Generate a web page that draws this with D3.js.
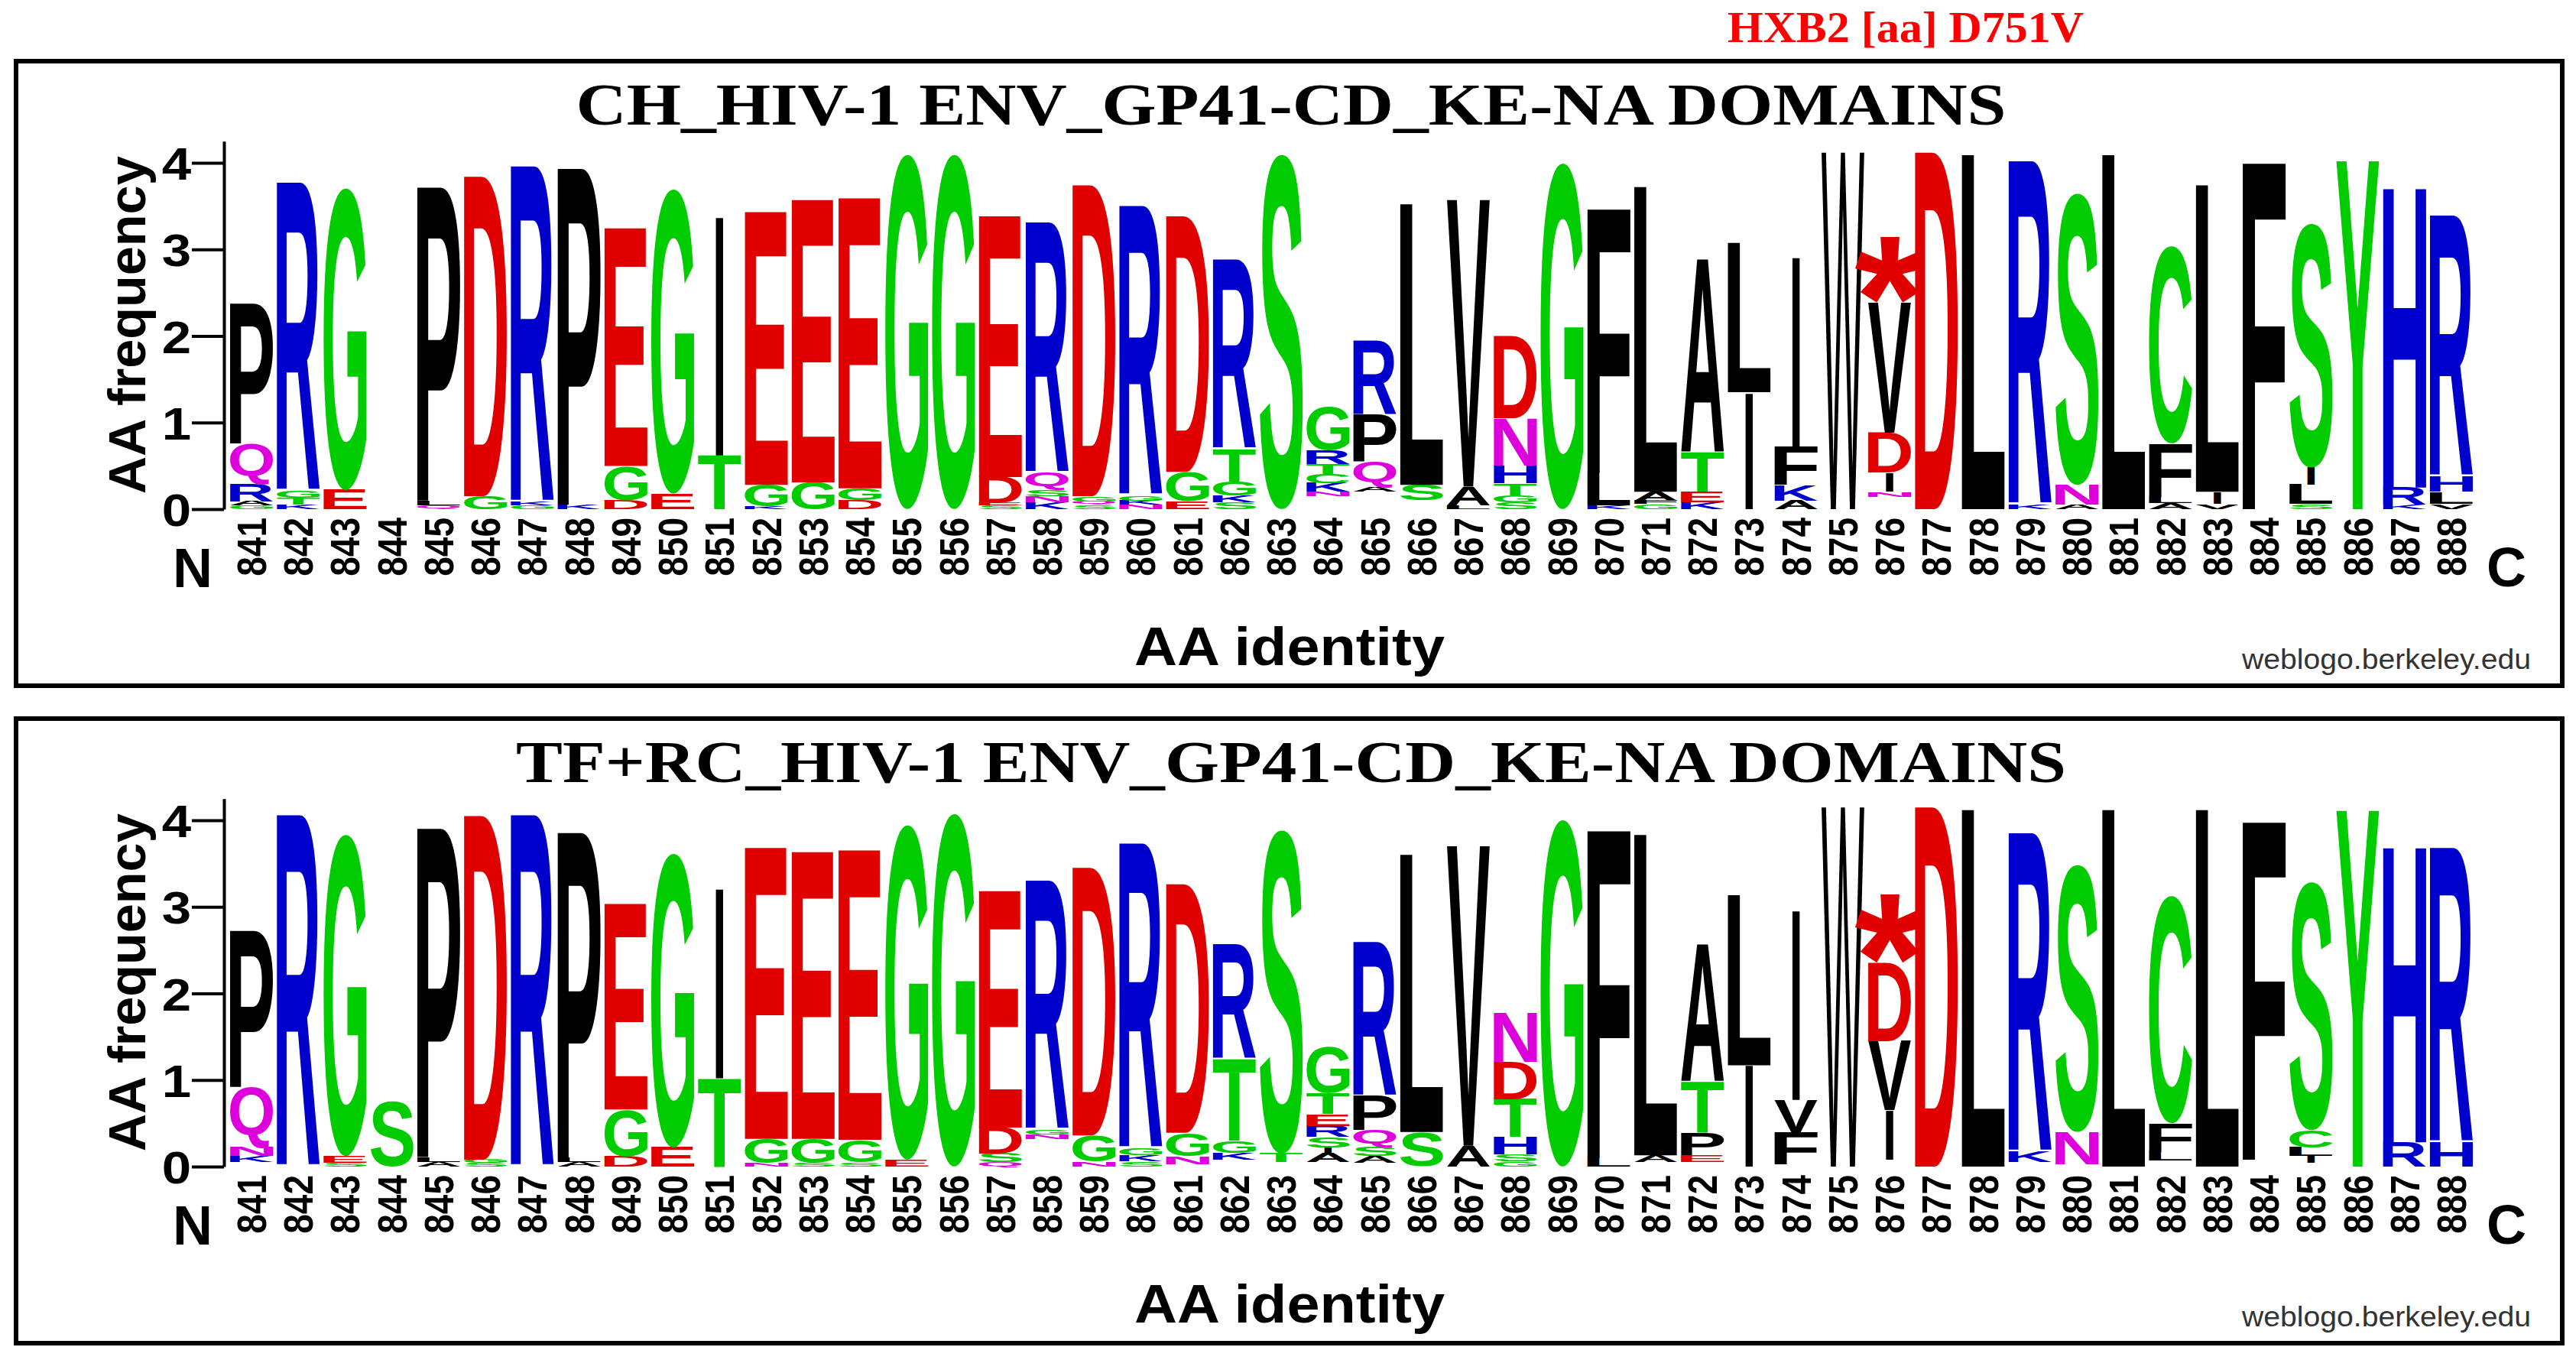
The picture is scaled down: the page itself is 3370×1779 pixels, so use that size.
<!DOCTYPE html>
<html>
<head>
<meta charset="utf-8">
<script src="https://cdn.jsdelivr.net/npm/d3@7"></script>
<style>
html,body{margin:0;padding:0;background:#ffffff;}
svg{display:block;}
</style>
</head>
<body>
<svg id="chart" width="3370" height="1779"></svg>
<script>
// ---------------- DATA ----------------
const positions = [841,842,843,844,845,846,847,848,849,850,851,852,853,854,855,856,857,858,859,860,
  861,862,863,864,865,866,867,868,869,870,871,872,873,874,875,876,877,878,879,880,
  881,882,883,884,885,886,887,888];

const yTicks = [0, 1, 2, 3, 4];

const panelTitles = ["CH_HIV-1 ENV_GP41-CD_KE-NA DOMAINS", "TF+RC_HIV-1 ENV_GP41-CD_KE-NA DOMAINS"];
const headerText = "HXB2 [aa] D751V";

// stacks: bottom -> top, [residue, bits]; " " = empty space
const chStacks = [
  [["G",.04],["A",.05],["R",.2],["Q",.47],["P",1.63]],
  [["K",.05],["T",.08],["G",.08],["R",3.57]],
  [["E",.22],["G",3.49]],
  [],
  [["Q",.04],["L",.06],["P",3.65]],
  [["G",.15],["D",3.7]],
  [["G",.04],["K",.04],["R",3.89]],
  [["K",.05],["P",3.92]],
  [["D",.1],["G",.4],["E",2.75]],
  [["E",.18],["G",3.52]],
  [["T",.62],["I",2.77]],
  [["K",.03],["G",.25],["E",3.16]],
  [["G",.31],["E",3.27]],
  [["D",.1],["G",.14],["E",3.36]],
  [["G",4.1]],
  [["G",4.1]],
  [["S",.04],["E",.03],["D",.3],["E",3.02]],
  [["K",.08],["N",.07],["S",.07],["Q",.2],["R",2.9]],
  [["S",.05],["Q",.04],["G",.06],["D",3.6]],
  [["N",.05],["K",.05],["G",.06],["R",3.35]],
  [["E",.09],["G",.34],["D",2.96]],
  [["S",.08],["K",.08],["G",.16],["T",.38],["R",2.19]],
  [["S",4.1]],
  [[" ",.15],["N",.05],["K",.1],["C",.1],["T",.12],["R",.16],["G",.5]],
  [[" ",.2],["A",.05],["Q",.3],["P",.55],["R",.85]],
  [[" ",.1],["S",.18],["L",3.25]],
  [["L",.04],["A",.22],["V",3.32]],
  [["S",.08],["G",.08],["T",.14],["H",.2],["N",.55],["D",.95]],
  [["G",4.0]],
  [["K",.04],["L",.38],["F",3.07]],
  [["G",.06],["F",.04],["A",.1],["L",3.53]],
  [["K",.08],["E",.12],["T",.45],["A",2.24]],
  [["I",1.35],["L",1.73]],
  [["A",.1],["K",.18],["F",.44],["I",2.2]],
  [["W",4.13]],
  [[" ",.14],["N",.06],["I",.22],["D",.46],["V",1.5],["*",.76]],
  [["D",4.13]],
  [["L",4.1]],
  [["K",.05],["R",3.98]],
  [["A",.05],["N",.23],["S",3.37]],
  [["L",4.1]],
  [["A",.07],["L",.07],["F",.62],["C",2.28]],
  [["V",.06],["I",.14],["L",3.55]],
  [["F",4.03]],
  [["S",.06],["L",.22],["I",.2],["S",2.82]],
  [["Y",4.03]],
  [["K",.05],["R",.2],["H",3.48]],
  [["V",.06],["L",.14],["H",.18],["R",3.02]]
];

const tfrcStacks = [
  [[" ",.05],["K",.07],["N",.1],["Q",.7],["P",1.82]],
  [["R",4.07]],
  [["S",.04],["E",.08],["G",3.72]],
  [["S",.76]],
  [["A",.05],["L",.06],["P",3.83]],
  [["S",.04],["G",.04],["D",3.98]],
  [["R",4.07]],
  [["A",.05],["L",.05],["P",3.79]],
  [["D",.12],["G",.54],["E",2.38]],
  [["E",.22],["G",3.4]],
  [["T",1.02],["I",2.2]],
  [["N",.04],["G",.28],["E",3.37]],
  [["S",.04],["G",.28],["E",3.32]],
  [["S",.05],["G",.26],["E",3.35]],
  [["E",.08],["G",3.87]],
  [["G",4.08]],
  [["Q",.05],["S",.1],["D",.3],["E",2.74]],
  [[" ",.32],["N",.05],["G",.06],["R",2.88]],
  [["N",.06],["G",.3],["D",3.1]],
  [["S",.06],["K",.07],["G",.08],["R",3.53]],
  [[" ",.03],["N",.09],["G",.27],["D",2.88]],
  [[" ",.08],["K",.08],["G",.14],["T",.95],["R",1.32]],
  [[" ",.05],["T",.1],["S",3.74]],
  [[" ",.05],["A",.1],["I",.07],["S",.12],["R",.13],["E",.14],["T",.24],["G",.53]],
  [[" ",.04],["A",.08],["S",.1],["Q",.2],["P",.4],["R",1.78]],
  [["S",.4],["L",3.21]],
  [["A",.24],["V",3.47]],
  [["G",.06],["S",.08],["H",.2],["T",.44],["D",.43],["N",.57]],
  [["G",4.01]],
  [["L",.1],["F",3.81]],
  [[" ",.05],["A",.08],["L",3.71]],
  [[" ",.05],["E",.08],["P",.26],["T",.59],["A",1.59]],
  [["I",1.17],["L",1.97]],
  [[" ",.03],["F",.37],["V",.37],["I",2.2]],
  [["W",4.16]],
  [[" ",.08],["I",.57],["V",.8],["D",.9],["*",.79]],
  [["D",4.16]],
  [["L",4.13]],
  [[" ",.05],["K",.12],["R",3.69]],
  [[" ",.03],["N",.37],["S",3.09]],
  [["L",4.13]],
  [[" ",.07],["L",.1],["F",.33],["C",2.63]],
  [["L",4.13]],
  [[" ",.08],["F",3.93]],
  [[" ",.04],["I",.08],["L",.1],["C",.2],["S",2.87]],
  [["Y",4.12]],
  [["R",.28],["H",3.43]],
  [["H",.28],["R",3.41]]
];

// ---------------- STYLE ----------------
const GREEN = "#00cc00", BLUE = "#0000cc", RED = "#e00000", MAGENTA = "#dd00dd", BLACK = "#000000";
const residueColor = {G:GREEN,S:GREEN,T:GREEN,Y:GREEN,C:GREEN,K:BLUE,R:BLUE,H:BLUE,D:RED,E:RED,Q:MAGENTA,N:MAGENTA,"*":RED};
const SANS = '"Liberation Sans", Arial, Helvetica, sans-serif';
const SERIF = '"Liberation Serif", "Times New Roman", serif';

const svg = d3.select("#chart");
svg.append("rect").attr("width",3370).attr("height",1779).attr("fill","#fff");

const x = d3.scaleBand().domain(positions).range([298.4, 3237.6]).padding(0);
const BITPX = 113.25;
function makeY(off){ return d3.scaleLinear().domain([0, 4.25]).range([666+off, 666+off-4.25*BITPX]); }

// glyph ink metrics
const ctx = document.createElement("canvas").getContext("2d");
const FS = 200;
const cache = {};
function ink(ch, weight){
  const key = ch + weight;
  if (cache[key]) return cache[key];
  ctx.font = `${weight} ${FS}px ${SANS}`;
  const m = ctx.measureText(ch);
  let r;
  if (m.actualBoundingBoxAscent !== undefined) {
    r = {l:m.actualBoundingBoxLeft, r:m.actualBoundingBoxRight, a:m.actualBoundingBoxAscent, d:m.actualBoundingBoxDescent};
  } else {
    r = {l:0, r:m.width, a:FS*0.72, d:0};
  }
  cache[key] = r;
  return r;
}

function drawLetter(g, ch, cx, w, yTop, yBot){
  const h = yBot - yTop;
  if (h < 0.4 || ch === " ") return;
  const weight = ch === "W" ? "normal" : "bold";
  const m = ink(ch, weight);
  const sx = w/(m.l+m.r), sy = h/(m.a+m.d);
  g.append("text").text(ch)
    .attr("font-family", SANS).attr("font-weight", weight).attr("font-size", FS)
    .attr("fill", residueColor[ch] || BLACK)
    .attr("transform", `translate(${cx - w/2 + m.l*sx},${yTop + m.a*sy}) scale(${sx},${sy})`);
}

function drawPanel(stacks, title, off){
  const g = svg.append("g");
  const y = makeY(off);
  // frame
  g.append("rect").attr("x",21).attr("y",80+off).attr("width",3331).attr("height",817)
    .attr("fill","none").attr("stroke","#000").attr("stroke-width",6);
  // title
  g.append("text").text(title).attr("x",1689).attr("y",163+off)
    .attr("text-anchor","middle").attr("font-family",SERIF).attr("font-weight","bold")
    .attr("font-size",78).attr("textLength", off ? 2028 : 1871).attr("lengthAdjust","spacingAndGlyphs");
  // y axis
  const yAxis = d3.axisLeft(y).tickValues(yTicks).tickSize(42).tickSizeOuter(0).tickPadding(1).tickFormat(d3.format("d"));
  const ga = g.append("g").attr("transform","translate(293,0)").call(yAxis);
  ga.select(".domain").attr("stroke","#000").attr("stroke-width",4);
  ga.selectAll(".tick line").attr("stroke","#000").attr("stroke-width",4);
  ga.selectAll(".tick text").attr("font-family",SANS).attr("font-weight","bold").attr("font-size",60)
    .attr("fill","#000").attr("x", -43/1.15).attr("dy","0.36em").attr("transform","scale(1.15,1)");
  // y label
  g.append("text").text("AA frequency")
    .attr("transform",`translate(190,${y(2.125)}) rotate(-90)`)
    .attr("text-anchor","middle").attr("font-family",SANS).attr("font-weight","bold")
    .attr("font-size",68).attr("textLength",442).attr("lengthAdjust","spacingAndGlyphs");
  // x tick labels
  const bw = x.bandwidth();
  g.selectAll("text.xl").data(positions).join("text").attr("class","xl")
    .text(d => d)
    .attr("transform", d => `translate(${x(d)+bw/2+19},${677+off}) scale(1.18,1) rotate(-90)`)
    .attr("text-anchor","end").attr("font-family",SANS).attr("font-weight","bold").attr("font-size",46);
  // N and C
  g.append("text").text("N").attr("x",252).attr("y",768+off).attr("text-anchor","middle")
    .attr("font-family",SANS).attr("font-weight","bold").attr("font-size",72);
  g.append("text").text("C").attr("x",3279).attr("y",767+off).attr("text-anchor","middle")
    .attr("font-family",SANS).attr("font-weight","bold").attr("font-size",72);
  // x label
  g.append("text").text("AA identity").attr("x",1687).attr("y",870+off).attr("text-anchor","middle")
    .attr("font-family",SANS).attr("font-weight","bold").attr("font-size",71)
    .attr("textLength",406).attr("lengthAdjust","spacingAndGlyphs");
  // credit
  g.append("text").text("weblogo.berkeley.edu").attr("x",3311).attr("y",875+off).attr("text-anchor","end")
    .attr("font-family",SANS).attr("font-size",37).attr("fill","#333")
    .attr("textLength",378).attr("lengthAdjust","spacingAndGlyphs");
  // stacks
  const lg = g.append("g");
  stacks.forEach((stack, i) => {
    const pos = positions[i];
    const cx = x(pos) + bw/2;
    let cum = 0;
    stack.forEach(([ch, h]) => {
      const yb = y(cum), yt = y(cum + h);
      let w = bw*0.92;
      if (ch === "I") w = bw*0.16;
      if (ch === "*") w = bw*1.5;
      drawLetter(lg, ch, cx, w, yt, yb);
      cum += h;
    });
  });
}

drawPanel(chStacks, panelTitles[0], 0);
drawPanel(tfrcStacks, panelTitles[1], 860);

// header
svg.append("text").text(headerText).attr("x",2493).attr("y",55).attr("text-anchor","middle")
  .attr("font-family",SERIF).attr("font-weight","bold").attr("font-size",58).attr("fill","#ff0000")
  .attr("textLength",466).attr("lengthAdjust","spacingAndGlyphs");
</script>
</body>
</html>
